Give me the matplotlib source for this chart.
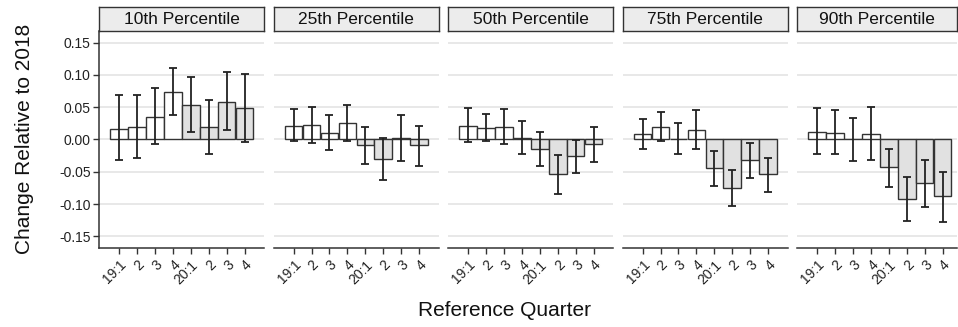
import matplotlib
matplotlib.use("Agg")
import matplotlib.pyplot as plt
import numpy as np

plt.rcParams['font.family'] = ['Liberation Sans', 'DejaVu Sans']

panels = ["10th Percentile", "25th Percentile", "50th Percentile", "75th Percentile", "90th Percentile"]
quarters = ["19:1", "2", "3", "4", "20:1", "2", "3", "4"]
year_2020 = [False, False, False, False, True, True, True, True]

p10_est = [0.017, 0.019, 0.035, 0.073, 0.054, 0.019, 0.058, 0.048]
p10_lo = [-0.032, -0.028, -0.007, 0.038, 0.012, -0.022, 0.015, -0.004]
p10_hi = [0.069, 0.069, 0.079, 0.110, 0.097, 0.061, 0.104, 0.102]

p25_est = [0.021, 0.022, 0.010, 0.025, -0.009, -0.030, 0.002, -0.009]
p25_lo = [-0.002, -0.006, -0.016, -0.003, -0.038, -0.062, -0.033, -0.041]
p25_hi = [0.047, 0.051, 0.038, 0.053, 0.019, 0.002, 0.038, 0.021]

p50_est = [0.021, 0.018, 0.019, 0.003, -0.014, -0.054, -0.026, -0.007]
p50_lo = [-0.004, -0.003, -0.007, -0.022, -0.041, -0.084, -0.052, -0.035]
p50_hi = [0.048, 0.039, 0.047, 0.029, 0.011, -0.024, -0.001, 0.020]

p75_est = [0.008, 0.019, 0.001, 0.014, -0.044, -0.075, -0.032, -0.054]
p75_lo = [-0.014, -0.003, -0.022, -0.015, -0.072, -0.103, -0.059, -0.082]
p75_hi = [0.032, 0.042, 0.026, 0.046, -0.018, -0.048, -0.005, -0.029]

p90_est = [0.011, 0.010, 0.000, 0.009, -0.043, -0.092, -0.068, -0.088]
p90_lo = [-0.023, -0.023, -0.034, -0.032, -0.073, -0.126, -0.105, -0.128]
p90_hi = [0.048, 0.045, 0.033, 0.051, -0.014, -0.058, -0.032, -0.051]

ests = [p10_est, p25_est, p50_est, p75_est, p90_est]
los = [p10_lo, p25_lo, p50_lo, p75_lo, p90_lo]
his = [p10_hi, p25_hi, p50_hi, p75_hi, p90_hi]

yticks = [-0.15, -0.10, -0.05, 0.00, 0.05, 0.10, 0.15]

W, H = 958, 327
fig = plt.figure(figsize=(W / 100, H / 100), dpi=100)

lefts = [99, 273.5, 448, 622.5, 797]
widths = [165, 165, 165, 165, 160]
unit = 17.93
ax_top, ax_bot = 31, 248
strip_top = 7

edge = '#333333'
for i in range(5):
    l = lefts[i] / W
    w = widths[i] / W
    b = 1 - ax_bot / H
    h = (ax_bot - ax_top) / H
    ax = fig.add_axes([l, b, w, h])
    x = np.arange(len(quarters))
    est = np.array(ests[i])
    lo = np.array(los[i])
    hi = np.array(his[i])
    colors = ['#e1e1e1' if f else 'white' for f in year_2020]
    ax.bar(x, est, width=0.98, color=colors, edgecolor=edge, linewidth=1.0, zorder=2)
    ax.errorbar(x, est, yerr=[est - lo, hi - est], fmt='none', ecolor='#222222',
                elinewidth=1.3, capsize=2.6, capthick=1.3, zorder=3)
    ax.set_xlim(-1.12, -1.12 + widths[i] / unit)
    ax.set_ylim(-0.168, 0.168)
    ax.set_yticks(yticks)
    for yt in yticks:
        ax.axhline(yt, color='#e6e6e6', lw=1.3, zorder=0)
    ax.set_xticks(x)
    ax.set_xticklabels(quarters, rotation=45, ha='right', rotation_mode='anchor',
                       fontsize=10, color='#222222')
    ax.tick_params(axis='x', length=4, width=1, color='#333333', pad=3)
    for s in ['top', 'right']:
        ax.spines[s].set_visible(False)
    ax.spines['bottom'].set_color('#333333')
    ax.spines['bottom'].set_linewidth(1.1)
    if i == 0:
        ax.spines['left'].set_color('#333333')
        ax.spines['left'].set_linewidth(1.1)
        ax.set_yticklabels(["-0.15", "-0.10", "-0.05", "0.00", "0.05", "0.10", "0.15"],
                           fontsize=10, color='#222222')
        ax.tick_params(axis='y', length=4, width=1, color='#333333', pad=2)
    else:
        ax.spines['left'].set_visible(False)
        ax.tick_params(axis='y', length=0, labelleft=False)
    ax.set_facecolor('white')

    sax = fig.add_axes([l, 1 - ax_top / H, w, (ax_top - strip_top) / H])
    sax.set_facecolor('#ececec')
    sax.set_xticks([])
    sax.set_yticks([])
    for s in sax.spines.values():
        s.set_color('#333333')
        s.set_linewidth(1.0)
    sax.text(0.5, 0.5, panels[i], ha='center', va='center', fontsize=12.5,
             color='#111111', transform=sax.transAxes)

fig.text(25 / W, 1 - 139 / H, "Change Relative to 2018", rotation=90, ha='center',
         va='center', fontsize=15, color='#111111')
fig.text(504 / W, 1 - 311 / H, "Reference Quarter", ha='center', va='center',
         fontsize=15, color='#111111')

fig.savefig("out.png", dpi=100)
